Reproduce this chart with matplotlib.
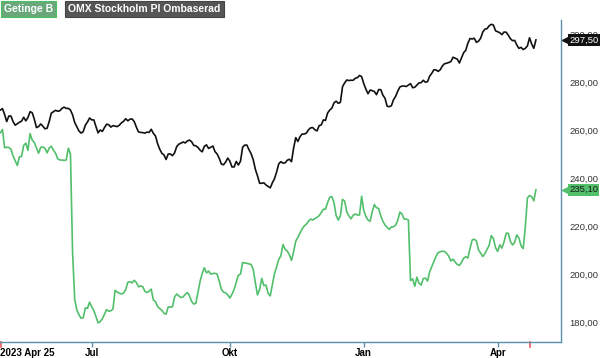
import numpy as np
import pandas as pd
import matplotlib
matplotlib.use('Agg')
import matplotlib.pyplot as plt
import matplotlib.transforms as mtransforms

plt.rcParams['font.family'] = ['Liberation Sans', 'DejaVu Sans']

# trading days (Stockholm), 2023-04-25 .. 2024-04-26
holidays = ['2023-05-01', '2023-05-18', '2023-06-06', '2023-06-23', '2023-12-25',
            '2023-12-26', '2024-01-01', '2024-03-29', '2024-04-01']
start_date, end_date = '2023-04-25', '2024-04-26'
report_date = '2024-04-23'

# daily closes
omx = [268.0, 268.0, 268.3, 268.9, 266.5, 263.5, 265.8, 265.8, 263.5, 262.0,
       262.6, 263.2, 263.7, 265.3, 263.8, 265.2, 267.6, 267.2, 264.5, 261.0,
       261.4, 262.5, 261.6, 260.5, 260.7, 263.5, 267.0, 267.6, 268.2, 267.8,
       268.0, 269.0, 269.5, 269.0, 269.0, 268.3, 266.3, 263.1, 261.3, 259.6,
       258.7, 259.3, 262.0, 263.3, 265.0, 264.2, 264.2, 261.4, 258.8, 260.0,
       259.4, 261.0, 262.4, 262.2, 261.2, 261.8, 261.6, 261.4, 262.0, 263.0,
       263.6, 264.7, 263.8, 264.5, 264.6, 263.5, 261.2, 259.2, 259.0, 258.9,
       258.7, 259.1, 259.0, 260.3, 258.6, 257.5, 254.3, 252.0, 250.3, 249.6,
       247.7, 250.0, 250.0, 249.3, 250.5, 253.1, 254.1, 254.5, 255.0, 254.6,
       255.4, 255.8, 255.1, 253.6, 253.4, 252.7, 251.6, 250.9, 253.2, 253.8,
       252.3, 252.8, 253.3, 251.0, 250.0, 248.2, 245.8, 245.5, 246.6, 248.3,
       247.0, 244.6, 244.6, 246.9, 245.4, 247.0, 252.8, 253.7, 253.7, 251.8,
       250.1, 247.6, 243.6, 240.9, 237.8, 237.8, 238.0, 237.1, 236.5, 235.9,
       238.0, 239.7, 242.5, 245.9, 246.8, 246.2, 246.3, 247.4, 247.8, 246.8,
       252.5, 256.8, 255.2, 257.2, 258.3, 258.3, 258.7, 260.1, 260.9, 261.0,
       260.1, 259.6, 261.8, 262.1, 264.2, 264.0, 267.1, 268.3, 269.1, 271.3,
       272.0, 271.1, 271.5, 278.0, 279.6, 280.8, 280.6, 280.7, 280.7, 281.5,
       281.8, 282.7, 282.2, 279.3, 277.0, 275.1, 276.6, 276.4, 276.0, 274.7,
       276.8, 276.8, 274.5, 273.2, 269.9, 269.7, 270.1, 272.6, 274.0, 276.2,
       277.9, 278.3, 278.3, 278.1, 278.7, 279.3, 277.6, 277.8, 278.7, 279.6,
       279.7, 280.7, 279.9, 280.1, 282.4, 283.6, 285.1, 285.0, 284.4, 285.1,
       286.7, 287.6, 287.8, 288.1, 288.5, 290.3, 289.9, 289.5, 287.9, 290.0,
       292.2, 293.2, 296.2, 298.1, 297.9, 298.2, 296.5, 297.0, 298.2, 300.8,
       302.0, 302.2, 303.4, 304.0, 303.7, 301.3, 300.9, 300.5, 299.7, 300.8,
       300.7, 299.5, 298.0, 297.2, 297.3, 295.4, 294.0, 294.4, 293.5, 294.0,
       295.0, 298.4, 295.8, 294.0, 297.5]
getinge = [258.0, 258.3, 258.8, 260.2, 252.6, 252.8, 252.7, 252.0, 249.2, 247.2,
           245.2, 248.8, 249.0, 253.6, 254.5, 251.5, 258.5, 255.8, 254.8, 252.5,
           250.3, 252.8, 252.9, 252.4, 250.5, 252.5, 253.2, 251.6, 250.3, 248.0,
           247.5, 247.5, 247.3, 247.5, 252.4, 250.0, 209.0, 189.5, 185.0, 183.0,
           181.6, 181.8, 185.9, 185.7, 188.3, 186.4, 184.8, 182.3, 179.6, 180.2,
           181.4, 183.2, 185.2, 184.5, 184.7, 185.4, 193.2, 192.5, 192.0, 191.7,
           192.1, 193.6, 196.6, 196.8, 196.3, 197.4, 196.5, 194.7, 195.0, 194.8,
           192.8, 192.3, 192.9, 193.7, 189.2, 188.5, 186.5, 185.6, 184.9, 183.7,
           183.3, 186.3, 186.2, 186.4, 190.5, 191.7, 190.9, 190.2, 190.5, 191.5,
           192.3, 191.0, 188.6, 187.5, 187.8, 192.5, 197.0, 200.3, 202.6, 200.5,
           201.2, 200.0, 200.2, 200.3, 200.0, 197.0, 193.7, 192.5, 192.2, 191.3,
           190.0, 191.6, 193.6, 196.5, 199.5, 200.0, 204.8, 204.6, 204.5, 204.2,
           204.0, 201.9, 196.4, 191.3, 193.6, 198.2, 195.2, 195.4, 192.0, 190.9,
           195.5, 200.2, 203.0, 206.1, 207.6, 212.3, 210.3, 209.6, 208.0, 205.7,
           209.3, 213.7, 215.3, 217.0, 218.8, 220.0, 220.8, 222.0, 222.9, 222.5,
           223.1, 223.6, 224.3, 225.6, 227.0, 227.0, 229.8, 232.0, 232.2, 229.8,
           224.4, 222.5, 224.3, 231.1, 230.4, 225.9, 224.2, 223.0, 224.5, 225.0,
           224.6, 224.6, 232.4, 226.4, 224.0, 222.5, 222.0, 226.0, 228.9, 227.6,
           227.3, 224.2, 222.0, 220.4, 219.5, 218.6, 219.6, 219.7, 220.4, 222.4,
           225.8, 225.0, 222.9, 222.9, 222.5, 197.3, 198.0, 194.9, 198.7, 196.2,
           195.4, 198.1, 198.3, 197.1, 200.9, 203.1, 205.3, 207.4, 208.9, 209.3,
           209.5, 209.4, 208.6, 207.4, 205.4, 206.2, 205.0, 204.0, 203.6, 204.9,
           206.6, 207.2, 206.7, 210.7, 214.2, 214.5, 213.8, 210.0, 208.7, 207.3,
           208.5, 210.2, 212.0, 216.0, 214.8, 211.0, 209.4, 212.2, 210.8, 213.4,
           217.0, 217.0, 213.6, 212.1, 213.2, 216.3, 215.0, 211.8, 210.6, 219.5,
           231.7, 232.7, 232.2, 230.5, 235.1]

series_names = ['Getinge B', 'OMX Stockholm PI Ombaserad']
month_labels = {7: 'Jul', 10: 'Okt', 1: 'Jan', 4: 'Apr'}
yticks = [180, 200, 220, 240, 260, 280, 300]

green = '#52bf6b'
edge_blue = '#5b8fae'

days = pd.bdate_range(start_date, end_date, freq='C', holidays=holidays)
idx = np.arange(len(days))

fig = plt.figure(figsize=(6, 3.58), dpi=100)
ax = fig.add_axes([0, 16 / 358, 561 / 600, 322 / 358])

ax.plot(idx[-len(omx):], omx, color='#111111', lw=1.2, zorder=3)
ax.plot(idx[-len(getinge):], getinge, color=green, lw=1.2, zorder=3)

ax.set_xlim(1.85, 265.8)
ax.set_ylim(171.7, 305.8)

for s in ['top', 'left']:
    ax.spines[s].set_visible(False)
for s in ['bottom', 'right']:
    ax.spines[s].set_color(edge_blue)
    ax.spines[s].set_linewidth(1.0)

# month ticks at first trading day of each quarter month
first_days = pd.Series(idx, index=days).groupby([days.year, days.month]).first()
tick_pos, tick_lab = [], []
for (yr, mo), i in first_days.items():
    if mo in month_labels and i > 0:
        tick_pos.append(i)
        tick_lab.append(month_labels[mo])
ax.set_xticks(tick_pos)
ax.set_xticklabels(tick_lab, fontsize=7, fontweight='bold', color='black')
ax.tick_params(axis='x', direction='out', length=3.5, width=1, color=edge_blue, pad=1)
ax.text(0, -0.018, '2023 Apr 25', transform=ax.transAxes, ha='left', va='top',
        fontsize=7, fontweight='bold', color='black')

# red event ticks (window start and report day)
bt = mtransforms.blended_transform_factory(ax.transData, ax.transAxes)
for d in [2.3, days.get_loc(pd.Timestamp(report_date))]:
    ax.plot([d, d], [0, -0.016], color='#e8575a', lw=1.2, transform=bt, clip_on=False)

ax.yaxis.tick_right()
ax.set_yticks(yticks)
ax.set_yticklabels([f'{v:.2f}'.replace('.', ',') for v in yticks], fontsize=6.8, color='#333333')
ax.tick_params(axis='y', length=0, pad=6)

# last value tags
rt = mtransforms.blended_transform_factory(ax.transAxes, ax.transData)
for val, fc, tc in [(omx[-1], '#111111', 'white'), (getinge[-1], green, '#1a1a1a')]:
    ax.plot([1.0 + 5 / 561], [val], marker='<', ms=5.5, color=fc, mec=fc,
            transform=rt, clip_on=False, zorder=5)
    ax.text(1.0 + 8 / 561, val, f'{val:.2f}'.replace('.', ','), transform=rt,
            ha='left', va='center', fontsize=6.8, color=tc, zorder=6,
            bbox=dict(boxstyle='square,pad=0.15', fc=fc, ec='none'))

# legend tags at top
fig.text(4 / 600, 1 - 9 / 358, series_names[0], ha='left', va='center', fontsize=7.5,
         fontweight='bold', color='white',
         bbox=dict(boxstyle='square,pad=0.3', fc='#6aa87c', ec='#4cc060', lw=0.8))
fig.text(68 / 600, 1 - 9 / 358, series_names[1], ha='left', va='center', fontsize=7.5,
         fontweight='bold', color='white',
         bbox=dict(boxstyle='square,pad=0.3', fc='#555555', ec='#444444', lw=0.8))

fig.savefig('out.png', dpi=100)
